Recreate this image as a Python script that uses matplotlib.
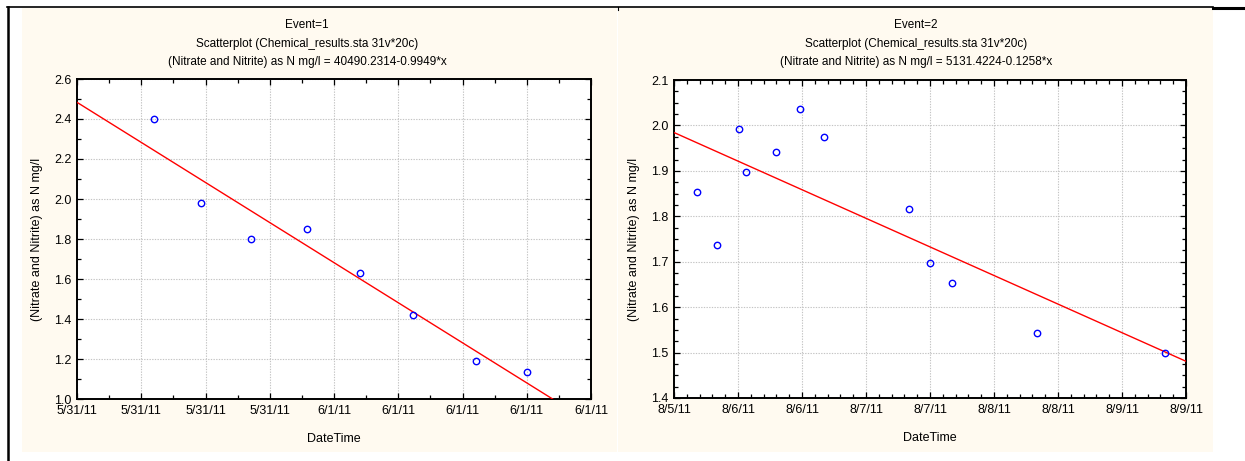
import numpy as np
import matplotlib
matplotlib.use("Agg")
import matplotlib.pyplot as plt
import matplotlib.dates as mdates
from matplotlib.ticker import FuncFormatter, MultipleLocator, FixedLocator
from datetime import datetime

plt.rcParams['font.family'] = ['Liberation Sans', 'DejaVu Sans']

# ---------------- data ----------------
ev1_times = ["2011-05-31 12:55", "2011-05-31 16:28", "2011-05-31 20:10", "2011-06-01 00:24",
             "2011-06-01 04:19", "2011-06-01 08:20", "2011-06-01 13:00", "2011-06-01 16:47"]
ev1_values = [2.40, 1.98, 1.80, 1.85, 1.63, 1.42, 1.19, 1.135]

ev2_times = ["2011-08-05 16:15", "2011-08-05 20:07", "2011-08-06 00:11", "2011-08-06 01:33",
             "2011-08-06 07:05", "2011-08-06 11:34", "2011-08-06 16:05", "2011-08-07 08:01",
             "2011-08-07 12:00", "2011-08-07 16:08", "2011-08-08 08:04", "2011-08-09 08:04"]
ev2_values = [1.853, 1.736, 1.992, 1.898, 1.942, 2.037, 1.975, 1.8165,
              1.698, 1.654, 1.544, 1.50]

titles = ["Event=1", "Event=2"]
subtitle = "Scatterplot (Chemical_results.sta 31v*20c)"
equations = ["(Nitrate and Nitrite) as N mg/l = 40490.2314-0.9949*x",
             "(Nitrate and Nitrite) as N mg/l = 5131.4224-0.1258*x"]
ylabel = "(Nitrate and Nitrite) as N mg/l"
xlabel = "DateTime"

ev1_xrange = ("2011-05-31 07:12", "2011-06-01 21:36")
ev1_xstep_h = 4.8
ev1_ylim = (1.0, 2.6)
ev2_xrange = ("2011-08-05 12:00", "2011-08-09 12:00")
ev2_xstep_h = 12
ev2_ylim = (1.4, 2.1)

# --------------- figure ---------------
W, H = 1245, 461
FS = 8.5
fig = plt.figure(figsize=(W / 100, H / 100), dpi=100)
fig.patch.set_facecolor('white')

cream = '#FFFAF0'

def fx(px):
    return px / W

def fy(py):
    return 1 - py / H

# cream panels
for x0, x1 in [(22, 617), (618, 1213)]:
    fig.add_artist(plt.Rectangle((fx(x0), fy(452)), fx(x1 - x0), (452 - 8) / H,
                                 transform=fig.transFigure, facecolor=cream,
                                 edgecolor='none', zorder=-5))
# frame lines
fig.add_artist(plt.Line2D([fx(8), fx(8)], [fy(7), 0], color='black', lw=1.8,
                          transform=fig.transFigure))
fig.add_artist(plt.Line2D([fx(7), fx(1213)], [fy(7.3), fy(7.3)], color='black', lw=1.2,
                          transform=fig.transFigure))
fig.add_artist(plt.Line2D([fx(1213), 1], [fy(7.6), fy(7.6)], color='black', lw=2.2,
                          transform=fig.transFigure))
fig.add_artist(plt.Line2D([fx(617.5), fx(617.5)], [fy(7), fy(10)], color='black', lw=0.8,
                          transform=fig.transFigure))

fmt = FuncFormatter(lambda v, p: (lambda d: f"{d.month}/{d.day}/{d:%y}")(mdates.num2date(v)))

def make_panel(rect, times, values, xrange_, step_h, ylim, ymaj, ymin, xminor_div,
               title, eq, cx):
    ax = fig.add_axes(rect)
    ax.set_zorder(2)
    ax.set_facecolor('white')
    t = mdates.date2num([datetime.strptime(s, "%Y-%m-%d %H:%M") for s in times])
    v = np.array(values)
    x0 = mdates.date2num(datetime.strptime(xrange_[0], "%Y-%m-%d %H:%M"))
    x1 = mdates.date2num(datetime.strptime(xrange_[1], "%Y-%m-%d %H:%M"))
    step = step_h / 24.0
    nt = int(round((x1 - x0) / step))
    ticks = [x0 + k * step for k in range(nt + 1)]
    ax.set_xlim(x0, x1)
    ax.set_ylim(*ylim)
    ax.xaxis.set_major_locator(FixedLocator(ticks))
    mticks = [x0 + k * step / xminor_div for k in range(nt * xminor_div + 1)]
    ax.xaxis.set_minor_locator(FixedLocator(mticks))
    ax.xaxis.set_major_formatter(fmt)
    ax.yaxis.set_major_locator(MultipleLocator(ymaj))
    ax.yaxis.set_minor_locator(MultipleLocator(ymin))
    ax.yaxis.set_major_formatter(FuncFormatter(lambda val, p: f"{val:.1f}"))
    ax.grid(True, which='major', color='#C4C4C4', lw=0.8, ls=(0, (1.2, 1.2)))
    ax.tick_params(which='both', direction='in', top=True, right=True, labelsize=FS + 0.5,
                   color='black', width=0.9)
    ax.tick_params(which='major', length=4, pad=4)
    ax.tick_params(which='minor', length=3)
    for s in ax.spines.values():
        s.set_linewidth(1.4)
    # regression line (least squares through the points)
    b, a = np.polyfit(t - x0, v, 1)
    xx = np.array([x0, x1])
    ax.plot(xx, a + b * (xx - x0), color='#FF0000', lw=1.0, zorder=3)
    ax.plot(t, v, 'o', mfc='none', mec='#0000FF', ms=4.6, mew=1.0, zorder=4, clip_on=False)
    ax.set_xlabel(xlabel, fontsize=FS + 0.5, labelpad=12)
    ax.set_ylabel(ylabel, fontsize=FS + 0.5, labelpad=8)
    fig.text(fx(cx), fy(25), title, ha='center', va='center', fontsize=FS)
    fig.text(fx(cx), fy(43.5), subtitle, ha='center', va='center', fontsize=FS)
    fig.text(fx(cx), fy(62), eq, ha='center', va='center', fontsize=FS)
    return ax

make_panel([fx(77), fy(399), fx(591 - 77), (399 - 79) / H], ev1_times, ev1_values,
           ev1_xrange, ev1_xstep_h, ev1_ylim, 0.2, 0.1, 2, titles[0], equations[0], 307)
make_panel([fx(674), fy(398), fx(1186 - 674), (398 - 80) / H], ev2_times, ev2_values,
           ev2_xrange, ev2_xstep_h, ev2_ylim, 0.1, 0.025, 5, titles[1], equations[1], 916)

fig.savefig("out.png", dpi=100, facecolor='white')
